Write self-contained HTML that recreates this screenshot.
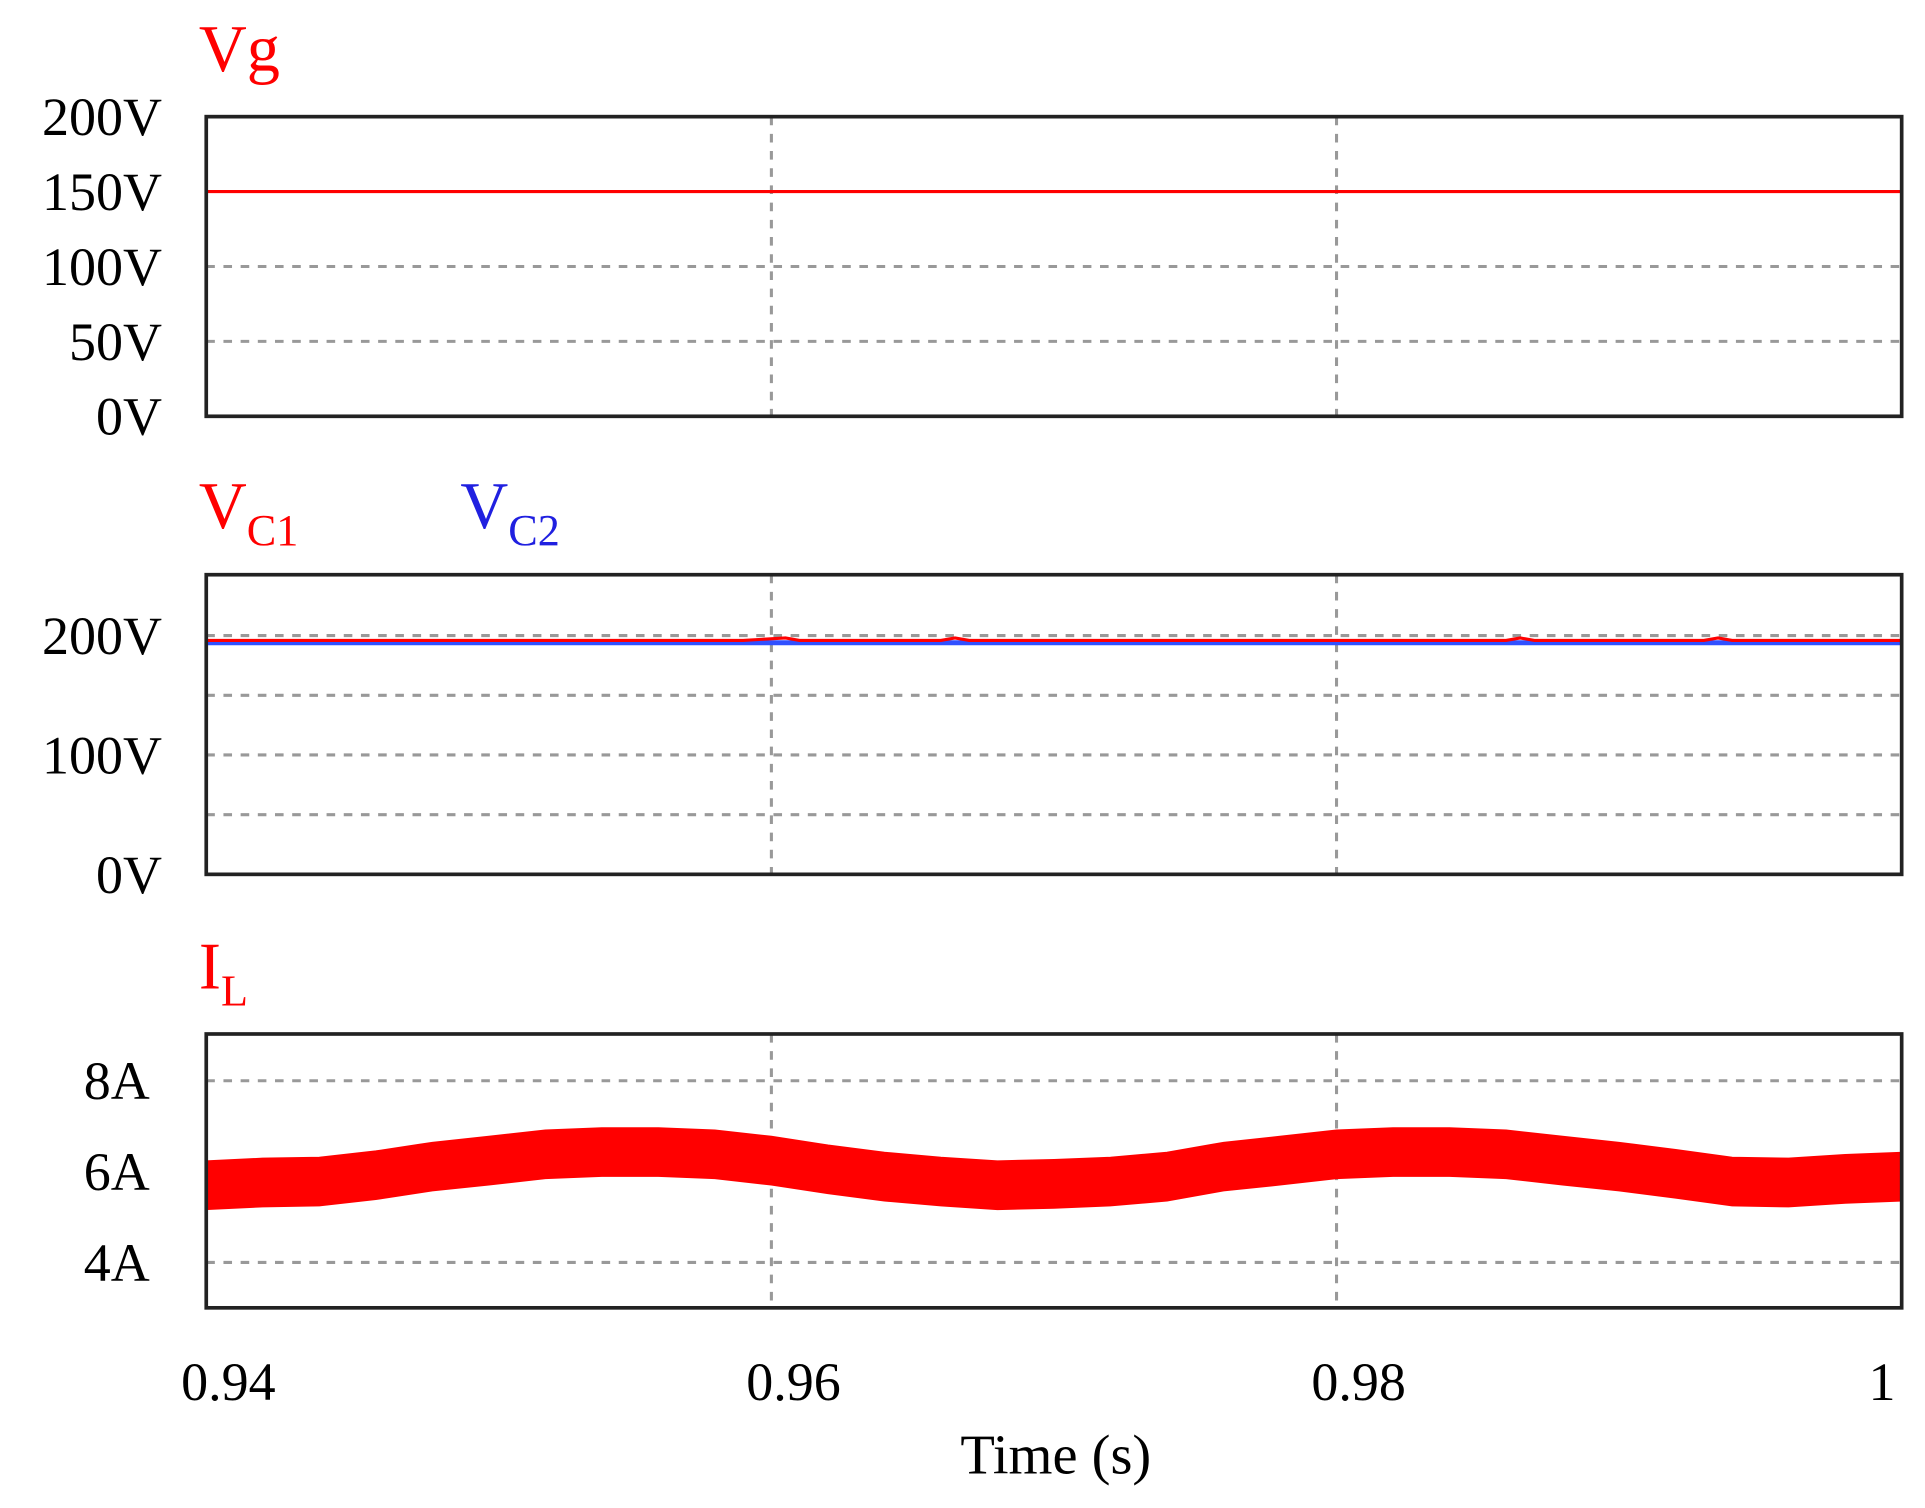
<!DOCTYPE html>
<html><head><meta charset="utf-8"><style>
html,body{margin:0;padding:0;background:#fff;}
svg{display:block;}
text{font-family:"Liberation Serif",serif;}
</style></head><body>
<svg id="chart" width="1925" height="1508" viewBox="0 0 1568 1228" preserveAspectRatio="none" xmlns="http://www.w3.org/2000/svg"></svg>
<script>
const timeTicks = [0.94, 0.96, 0.98, 1];
const timeTickLabels = ["0.94", "0.96", "0.98", "1"];
const vgTicks = [0, 50, 100, 150, 200];
const vgTickLabels = ["0V", "50V", "100V", "150V", "200V"];
const vgValue = 150;
const vcTicks = [0, 100, 200];
const vcTickLabels = ["0V", "100V", "200V"];
const vcGrid = [50, 100, 150, 200];
const vc1Times = [0.94, 0.959, 0.9605, 0.961, 0.966, 0.9665, 0.967, 0.986, 0.9865, 0.987, 0.993, 0.9935, 0.994, 1];
const vc1Values = [196, 196, 198, 196, 196, 198, 196, 196, 198, 196, 196, 198, 196, 196];
const vc2Times = [0.94, 1];
const vc2Values = [194, 194];
const ilTicks = [4, 6, 8];
const ilTickLabels = ["4A", "6A", "8A"];
const ilTimes = [0.940,0.942,0.944,0.946,0.948,0.950,0.952,0.954,0.956,0.958,0.960,0.962,0.964,0.966,0.968,0.970,0.972,0.974,0.976,0.978,0.980,0.982,0.984,0.986,0.988,0.990,0.992,0.994,0.996,0.998,1.000];
const ilCenter = [5.70,5.76,5.78,5.92,6.11,6.24,6.38,6.43,6.43,6.38,6.24,6.05,5.89,5.78,5.70,5.73,5.78,5.89,6.11,6.24,6.38,6.43,6.43,6.38,6.24,6.11,5.95,5.78,5.76,5.84,5.89];
const ilRipple = 0.52;

const svg = document.getElementById('chart');
const NS = 'http://www.w3.org/2000/svg';
function mk(tag, attrs, parent){const e=document.createElementNS(NS,tag);for(const k in attrs)e.setAttribute(k,attrs[k]);(parent||svg).appendChild(e);return e;}
const X0=168, X1=1549;
const xs = t => X0 + (t-0.94)/(1-0.94)*(X1-X0);

function panel(name, top, bottom, vmin, vmax){
  const y = v => bottom - (v-vmin)/(vmax-vmin)*(bottom-top);
  const g = mk('g',{});
  
  
  return {g, y, top, bottom};
}
function frame(p, gridVals){
  gridVals.forEach(v=>{
    const l=mk('line',{x1:X0,x2:X1,y1:p.y(v),y2:p.y(v),stroke:'#999','stroke-width':2.5,'stroke-dasharray':'7,7'},p.g);
    
    
  });
  [0.96,0.98].forEach(t=>{
    const l=mk('line',{x1:xs(t),x2:xs(t),y1:p.top,y2:p.bottom,stroke:'#999','stroke-width':2.5,'stroke-dasharray':'7,7'},p.g);
    
    
  });
}
function box(p){
  const r=mk('rect',{x:X0,y:p.top,width:X1-X0,height:p.bottom-p.top,fill:'none',stroke:'#222','stroke-width':3},p.g);
  
  
}
function yTicks(p, vals, labels, xr){
  vals.forEach((v,i)=>{
    const t=mk('text',{x:xr,y:p.y(v)+15,'text-anchor':'end','font-size':44,fill:'#000'},p.g);
    t.textContent=labels[i];
    
    
  });
}
function line(p, times, vals, color, w){
  const d=times.map((t,i)=>(i?'L':'M')+xs(t).toFixed(1)+','+p.y(vals[i]).toFixed(1)).join(' ');
  return mk('path',{d,fill:'none',stroke:color,'stroke-width':w},p.g);
}
function label(x,y,main,sub,color,name){
  const t=mk('text',{x,y,'font-size':54,fill:color});
  
  
  t.appendChild(document.createTextNode(main));
  if(sub){const s=mk('tspan',{'font-size':36,dy:14},t);s.textContent=sub;}
}

const p1 = panel('vg-panel', 95, 339, 0, 200);
frame(p1,[50,100]);
const vg=line(p1,[0.94,1],[vgValue,vgValue],'#f00',2.5);


box(p1); yTicks(p1,vgTicks,vgTickLabels,132);
label(162,58,'Vg',null,'#f00','vg-title');

const p2 = panel('vc-panel', 468, 712, 0, 251);
frame(p2,vcGrid);
const l2=line(p2,vc2Times,vc2Values,'#3050ff',4);


const l1=line(p2,vc1Times,vc1Values,'#f00',2.5);


box(p2); yTicks(p2,vcTicks,vcTickLabels,132);
label(162,430,'V','C1','#f00','vc1-title');
label(375,430,'V','C2','#2020e0','vc2-title');

const p3 = panel('il-panel', 842, 1065, 3.0, 9.03);
frame(p3,[4,8]);
const up=ilTimes.map((t,i)=>xs(t).toFixed(1)+','+p3.y(ilCenter[i]+ilRipple).toFixed(1));
const lo=ilTimes.map((t,i)=>xs(t).toFixed(1)+','+p3.y(ilCenter[i]-ilRipple).toFixed(1)).reverse();
const band=mk('polygon',{points:up.concat(lo).join(' '),fill:'#f00',stroke:'#f00','stroke-width':2},p3.g);


box(p3); yTicks(p3,ilTicks,ilTickLabels,122);
label(162,805,'I','L','#f00','il-title');

timeTicks.forEach((t,i)=>{
  const anchor = i===timeTicks.length-1 ? 'end' : 'middle';
  const x = i===timeTicks.length-1 ? xs(t)-5 : xs(t)+18;
  const e=mk('text',{x,y:1140,'text-anchor':anchor,'font-size':44,fill:'#000'});
  e.textContent=timeTickLabels[i];
  
  
});
const xt=mk('text',{x:860,y:1200,'text-anchor':'middle','font-size':46,fill:'#000'});
xt.textContent='Time (s)';


</script>
</body></html>
